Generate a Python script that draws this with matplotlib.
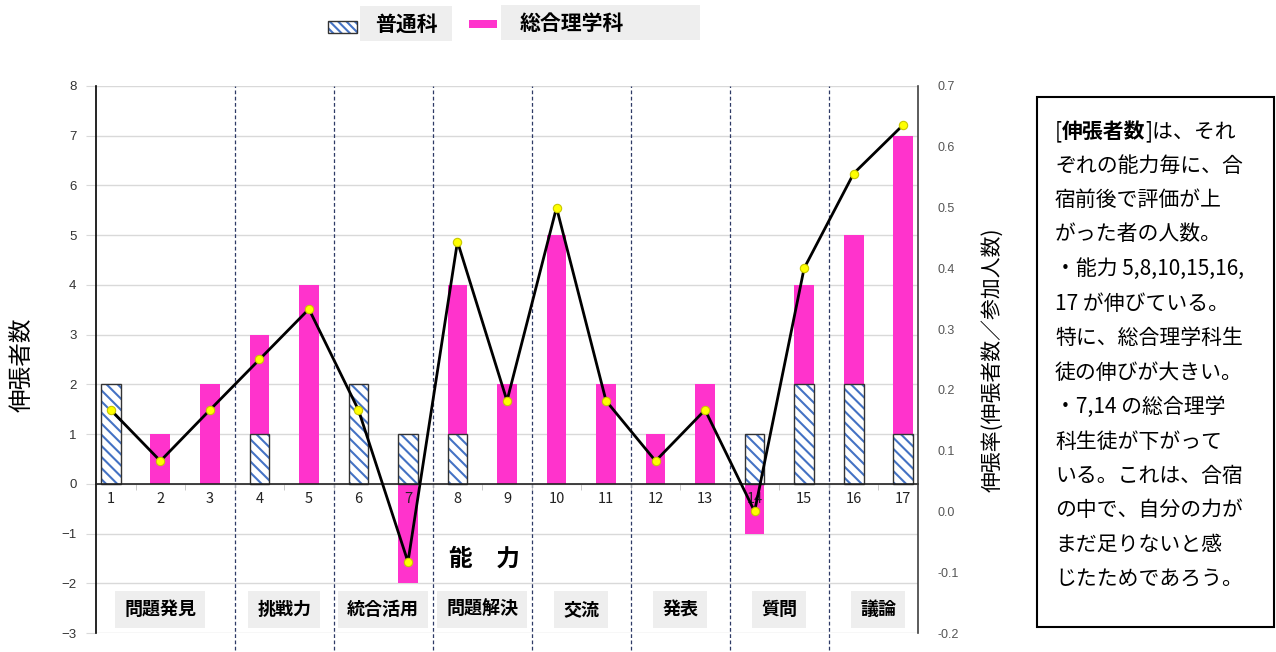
import numpy as np
import matplotlib
matplotlib.use("Agg")
import matplotlib.pyplot as plt
from matplotlib.patches import Rectangle

plt.rcParams["font.family"] = ["Noto Sans CJK JP", "DejaVu Sans"]
plt.rcParams["hatch.linewidth"] = 1.5

# データ
abilities = list(range(1, 18))
futsu = [2, 0, 0, 1, 0, 2, 1, 1, 0, 0, 0, 0, 0, 1, 2, 2, 1]      # 普通科
sogo = [0, 1, 2, 2, 4, 0, -2, 3, 2, 5, 2, 1, 2, -1, 2, 3, 6]      # 総合理学科
rate = [0.167, 0.083, 0.167, 0.25, 0.333, 0.167, -0.083, 0.444, 0.182,
        0.5, 0.182, 0.083, 0.167, 0.0, 0.4, 0.556, 0.636]          # 伸張率
groups = ["問題発見", "挑戦力", "統合活用", "問題解決", "交流", "発表", "質問", "議論"]
group_first = [1, 4, 6, 8, 10, 12, 14, 16]
series_names = ["普通科", "総合理学科"]
note_lines = ["[伸張者数]は、それ", "ぞれの能力毎に、合", "宿前後で評価が上",
              "がった者の人数。", "・能力 5,8,10,15,16,", "17 が伸びている。",
              "特に、総合理学科生", "徒の伸びが大きい。", "・7,14 の総合理学",
              "科生徒が下がって", "いる。これは、合宿", "の中で、自分の力が",
              "まだ足りないと感", "じたためであろう。"]

W, H = 1276, 652
PINK = "#ff33cc"
BLUE = "#4472c4"
GRID = "#d9d9d9"


def fx(px):
    return px / W


def fy(py):
    return 1 - py / H


fig = plt.figure(figsize=(W / 100, H / 100), dpi=100)
ax = fig.add_axes([fx(96), fy(633), fx(918) - fx(96), fy(86) - fy(633)])

x = np.array(abilities)
futsu = np.array(futsu)
sogo = np.array(sogo)
bottom = np.where(sogo >= 0, futsu, 0)

# 横のグリッド線
for v in range(-3, 9):
    ax.axhline(v, color=GRID, lw=1, zorder=0.3)

# 棒グラフ
ax.bar(x, futsu, 0.4, color="white", hatch="\\\\\\", edgecolor=BLUE, linewidth=0, zorder=1)
ax.bar(x[futsu > 0], futsu[futsu > 0], 0.4, fill=False, edgecolor="#333333", linewidth=1.0, zorder=1.1)
ax.bar(x, sogo, 0.4, bottom=bottom, color=PINK, linewidth=0, zorder=1)

# グループの区切り線
bounds = [g - 0.5 for g in group_first[1:]]
ax.vlines(bounds, -3.34, 8, colors="#2e3a66", linestyles=(0, (3, 2)), lw=0.9,
          clip_on=False, zorder=0.8)

ax.set_xlim(0.7, 17.3)
ax.set_ylim(-3, 8)
ax.set_yticks(range(-3, 9))
ax.set_xticks(x)
ax.set_xticks(np.arange(1.5, 17, 1), minor=True)
ax.tick_params(axis="x", which="major", length=0, pad=6, labelsize=10.5, labelcolor="#222222")
ax.tick_params(axis="x", which="minor", length=4, color="#bfbfbf", direction="out")
ax.tick_params(axis="y", length=7, color=GRID, pad=7, labelsize=9.5, labelcolor="#333333")
for lab in ax.get_xticklabels() + ax.get_yticklabels():
    lab.set_fontfamily(["Liberation Sans", "DejaVu Sans"])

ax.spines["bottom"].set_position(("data", 0))
ax.spines["bottom"].set_color("#222222")
ax.spines["bottom"].set_linewidth(1.2)
ax.spines["left"].set_color("black")
ax.spines["left"].set_linewidth(1.2)
ax.spines["top"].set_visible(False)
ax.spines["right"].set_visible(False)

# グループ名
for i, name in enumerate(groups):
    last = group_first[i + 1] - 1 if i + 1 < len(group_first) else abilities[-1]
    cx = (group_first[i] + last) / 2
    ax.text(cx, -2.53, name, ha="center", va="center", fontsize=13, fontweight="bold",
            bbox=dict(boxstyle="square,pad=0.5", fc="#eeeeee", ec="none"), zorder=2)

ax.text(8.55, -1.5, "能　力", ha="center", va="center", fontsize=17, fontweight="bold")

# 伸張率の折れ線
ax2 = ax.twinx()
ax2.plot(x, rate, color="black", lw=2, marker="o", ms=6, mfc="#ffff00", mec="#c8c800",
         mew=0.8, zorder=5)
ax2.set_ylim(-0.2, 0.7)
ticks2 = np.round(np.arange(-0.2, 0.71, 0.1), 1)
ax2.set_yticks(ticks2)
ax2.set_yticklabels([f"{t:.1f}".replace("-0.0", "0.0") for t in ticks2])
ax2.tick_params(axis="y", length=0, pad=14, labelsize=9, labelcolor="#555555")
for lab in ax2.get_yticklabels():
    lab.set_fontfamily(["Liberation Sans", "DejaVu Sans"])
for s in ["top", "left", "bottom"]:
    ax2.spines[s].set_visible(False)
ax2.spines["right"].set_color("#404040")
ax2.spines["right"].set_linewidth(1.2)

# 軸ラベル
fig.text(fx(22), fy(365), "伸張者数", rotation=90, ha="center", va="center", fontsize=17)
fig.text(fx(992), fy(360), "伸張率(伸張者数／参加人数)", rotation=90, ha="center",
         va="center", fontsize=15)

# 凡例
fig.patches.append(Rectangle((fx(360), fy(41)), fx(452) - fx(360), fy(6) - fy(41),
                             transform=fig.transFigure, fc="#eeeeee", ec="none"))
fig.patches.append(Rectangle((fx(501), fy(40)), fx(700) - fx(501), fy(5) - fy(40),
                             transform=fig.transFigure, fc="#eeeeee", ec="none"))
fig.patches.append(Rectangle((fx(328), fy(33)), fx(357) - fx(328), fy(21) - fy(33),
                             transform=fig.transFigure, fc="white", hatch="\\\\\\\\",
                             edgecolor=BLUE, lw=0))
fig.patches.append(Rectangle((fx(328), fy(33)), fx(357) - fx(328), fy(21) - fy(33),
                             transform=fig.transFigure, fill=False, edgecolor="#333333", lw=1))
fig.patches.append(Rectangle((fx(469), fy(28)), fx(497) - fx(469), fy(20) - fy(28),
                             transform=fig.transFigure, fc=PINK, ec="none"))
fig.text(fx(406), fy(24), series_names[0], ha="center", va="center", fontsize=15, fontweight="bold")
fig.text(fx(572), fy(23), series_names[1], ha="center", va="center", fontsize=15, fontweight="bold")

# 説明文の枠
fig.patches.append(Rectangle((fx(1037), fy(627)), fx(1274) - fx(1037), fy(97) - fy(627),
                             transform=fig.transFigure, fill=False, ec="black", lw=1.5))

fig.canvas.draw()
renderer = fig.canvas.get_renderer()
x0 = fx(1055)
head = note_lines[0]
parts = [(head[:1], "normal"), (head[1:5], "bold"), (head[5:], "normal")]
for txt, wt in parts:
    t = fig.text(x0, fy(131), txt, ha="left", va="center", fontsize=15, fontweight=wt)
    bb = t.get_window_extent(renderer)
    x0 = bb.x1 / fig.bbox.width
for i, line in enumerate(note_lines[1:], start=1):
    fig.text(fx(1055), fy(131 + i * 34.5), line, ha="left", va="center", fontsize=15)

fig.savefig("out.png", dpi=100)
